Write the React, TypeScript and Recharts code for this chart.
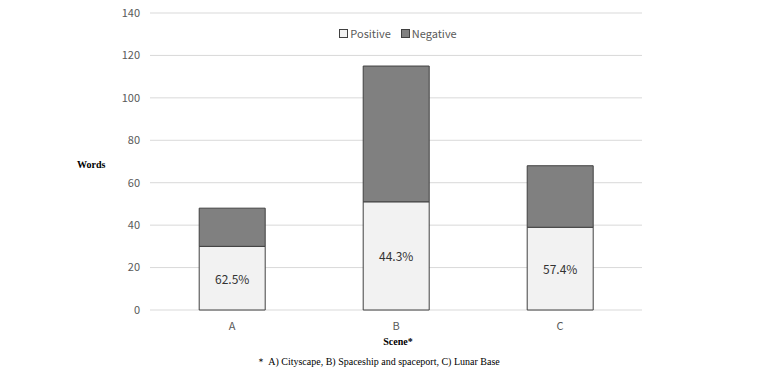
import React from 'react';
import { BarChart, Bar, XAxis, YAxis, CartesianGrid, LabelList } from 'recharts';

const categories = ['A', 'B', 'C'];
const positiveValues = [30, 51, 39];
const negativeValues = [18, 64, 29];
const yTicks = [0, 20, 40, 60, 80, 100, 120, 140];

const data = categories.map((c, i) => ({
  scene: c,
  Positive: positiveValues[i],
  Negative: negativeValues[i],
}));

const SANS = '"Noto Sans CJK JP", "Noto Sans", sans-serif';
const SERIF = '"Liberation Serif", "DejaVu Serif", serif';

const PctLabel = (props: any) => {
  const { x, y, width, height, index } = props;
  const p = positiveValues[index];
  const n = negativeValues[index];
  const pct = ((p / (p + n)) * 100).toFixed(1) + '%';
  return (
    <text
      x={x + width / 2}
      y={y + height / 2}
      textAnchor="middle"
      dominantBaseline="central"
      fontFamily={SANS}
      fontSize={12}
      fill="#333"
    >
      {pct}
    </text>
  );
};

export default function App() {
  return (
    <div style={{ position: 'absolute', left: 0, top: 0, width: 771, height: 373, background: '#fff' }}>
      <BarChart
        width={771}
        height={373}
        data={data}
        margin={{ top: 13, right: 129, bottom: 33, left: 0 }}
        barCategoryGap="30%"
      >
        <CartesianGrid vertical={false} stroke="#d9d9d9" strokeWidth={1} />
        <XAxis
          dataKey="scene"
          height={30}
          axisLine={false}
          tickLine={false}
          tick={{ fill: '#595959', fontSize: 11, fontFamily: SANS }}
          tickMargin={6}
        />
        <YAxis
          width={150}
          domain={[0, 140]}
          ticks={yTicks}
          axisLine={false}
          tickLine={false}
          tickSize={0}
          tickMargin={10}
          tick={{ fill: '#595959', fontSize: 11, fontFamily: SANS }}
        />
        <Bar dataKey="Positive" stackId="s" fill="#f2f2f2" stroke="#404040" strokeWidth={1} isAnimationActive={false}>
          <LabelList dataKey="Positive" content={PctLabel} />
        </Bar>
        <Bar dataKey="Negative" stackId="s" fill="#808080" stroke="#404040" strokeWidth={1} isAnimationActive={false} />
      </BarChart>
      <div style={{ position: 'absolute', left: 0, top: 26, width: 796, display: 'flex', justifyContent: 'center', fontFamily: SANS, fontSize: 11, color: '#595959', lineHeight: '14px' }}>
        <span style={{ display: 'inline-flex', alignItems: 'center', marginRight: 10 }}>
          <span style={{ display: 'inline-block', width: 7, height: 7, background: '#f2f2f2', border: '1px solid #404040', marginRight: 2 }} />
          Positive
        </span>
        <span style={{ display: 'inline-flex', alignItems: 'center' }}>
          <span style={{ display: 'inline-block', width: 7, height: 7, background: '#808080', border: '1px solid #404040', marginRight: 2 }} />
          Negative
        </span>
      </div>
      <div style={{ position: 'absolute', left: 77, top: 159, fontFamily: SERIF, fontWeight: 'bold', fontSize: 10, color: '#000' }}>Words</div>
      <div style={{ position: 'absolute', left: 0, width: 796, top: 336, textAlign: 'center', fontFamily: SERIF, fontWeight: 'bold', fontSize: 10, color: '#000' }}>Scene*</div>
      <div style={{ position: 'absolute', left: 0, width: 756, top: 355, textAlign: 'center', fontFamily: SERIF, fontSize: 10, color: '#000' }}>＊ A) Cityscape, B) Spaceship and spaceport, C) Lunar Base</div>
    </div>
  );
}
